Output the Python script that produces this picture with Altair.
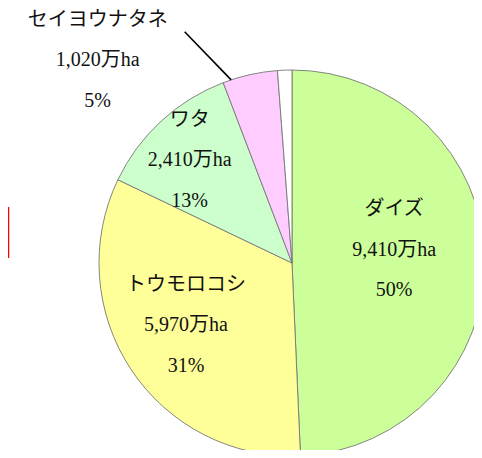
import math
import altair as alt
import pandas as pd

# ---- data ----
crops = ["ダイズ", "トウモロコシ", "ワタ", "セイヨウナタネ", "その他"]
# slice shares as drawn in the picture (percent of the circle)
slice_share = [49.3, 32.8, 12.1, 4.6, 1.2]
area_labels = ["9,410万ha", "5,970万ha", "2,410万ha", "1,020万ha", ""]
pct_labels = ["50%", "31%", "13%", "5%", ""]
colors = ["#ccff99", "#ffff99", "#ccffcc", "#ffccff", "#ffffff"]

# ---- layout (styling only) ----
W, H = 466, 442
CX, CY, R = 284, 255, 193
label_r = [103, 123, 145, 281, 0]
label_shift = [-6.1, 3.0, -2.25, -31.15, 0]     # degrees relative to slice middle
FONT = "Liberation Serif, Noto Sans CJK JP"
LH = 40.5

total = sum(slice_share)
rows = []
cum = 0
for i, (c, a) in enumerate(zip(crops, slice_share)):
    mid = (cum + a / 2) / total * 360
    cum += a
    ang = math.radians(mid + label_shift[i])
    rows.append({
        "crop": c, "share": a, "order": i,
        "label": [c, area_labels[i], pct_labels[i]] if area_labels[i] else [""],
        "lx": CX + label_r[i] * math.sin(ang),
        "ly": CY - label_r[i] * math.cos(ang),
    })
df = pd.DataFrame(rows)

pie = alt.Chart(df).mark_arc(outerRadius=R, stroke="#777777", strokeWidth=0.9).encode(
    theta=alt.Theta("share:Q", stack=True),
    order=alt.Order("order:Q"),
    color=alt.Color("crop:N", scale=alt.Scale(domain=crops, range=colors), legend=None),
    x=alt.value(CX), y=alt.value(CY),
)

labels = alt.Chart(df[df["share"] > 2]).mark_text(
    font=FONT, fontSize=20, lineHeight=LH, align="center", baseline="middle",
    color="#111111", dy=-LH,
).encode(
    x=alt.X("lx:Q", scale=None), y=alt.Y("ly:Q", scale=None), text="label"
)

# leader line for セイヨウナタネ
i = 3
s0 = sum(slice_share[:i]) / total * 360
a_edge = math.radians(s0 + 2.5)
a_out = math.radians(335.1)
leader_df = pd.DataFrame([{
    "x": CX + R * math.sin(a_edge), "y": CY - R * math.cos(a_edge),
    "x2": CX + 255 * math.sin(a_out), "y2": CY - 255 * math.cos(a_out),
}])
leader = alt.Chart(leader_df).mark_rule(color="black", strokeWidth=1.6).encode(
    x=alt.X("x:Q", scale=None), y=alt.Y("y:Q", scale=None),
    x2="x2:Q", y2="y2:Q",
)

# cropped fragment of a red box at the left edge
red = alt.Chart(pd.DataFrame({"v": [0]})).mark_rule(color="#ff0000", strokeWidth=1.5).encode(
    x=alt.value(0.5), y=alt.value(199), y2=alt.value(250)
)

chart = alt.layer(pie, leader, labels, red).properties(
    width=W, height=H, padding=0, autosize=alt.AutoSizeParams(type="none")
).configure_view(stroke=None)

chart.save("out.html", embed_options={"renderer": "svg", "actions": False})
